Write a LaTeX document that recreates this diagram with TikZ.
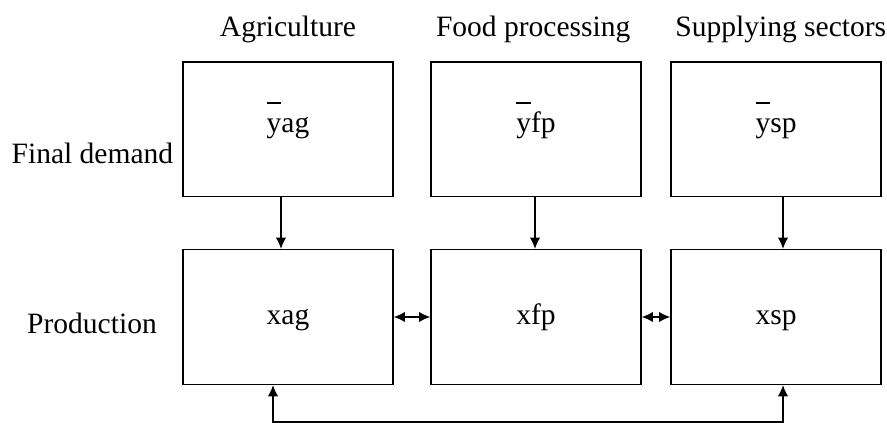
\documentclass[tikz,border=0pt]{standalone}
\usepackage{fontspec}
\setmainfont{Liberation Serif}
\usetikzlibrary{arrows.meta}
\newcommand{\barred}[1]{\rlap{\raisebox{0.95em}{\rule{0.5em}{0.06em}}}#1}

\begin{document}
\begin{tikzpicture}[
    sector/.style={draw, line width=1pt, minimum width=5.25cm, minimum height=3.37cm, inner sep=0pt, text height=14pt, text depth=4pt, font=\fontsize{21}{25}\selectfont},
    caption/.style={font=\fontsize{21}{25}\selectfont, inner sep=0pt},
    flow/.style={line width=1pt, {Latex[length=2.8mm,width=2.6mm]}-{Latex[length=2.8mm,width=2.6mm]}},
    feed/.style={line width=1pt, -{Latex[length=2.8mm,width=2.6mm]}}
  ]
  \useasboundingbox (0,0) rectangle (22.175,10.575);

  % Draw the column headings
  \node[caption] (agri) at (7.2,9.85) {Agriculture};
  \node[caption] (food) at (13.33,9.85) {Food processing};
  \node[caption] (supp) at (19.52,9.85) {Supplying sectors};

  % Draw the row headings
  \node[caption] (demand) at (2.31,6.75) {Final demand};
  \node[caption] (prod) at (2.3,2.5) {Production};

  % Draw the final demand boxes
  \node[sector] (yag) at (7.2,7.34) {\raisebox{1.1mm}{\barred{y}ag}};
  \node[sector] (yfp) at (13.4,7.34) {\raisebox{1.1mm}{\barred{y}fp}};
  \node[sector] (ysp) at (19.4,7.34) {\raisebox{1.1mm}{\barred{y}sp}};

  % Draw the production boxes
  \node[sector] (xag) at (7.2,2.65) {xag};
  \node[sector] (xfp) at (13.4,2.65) {xfp};
  \node[sector] (xsp) at (19.4,2.65) {xsp};

  % Draw arrows from demand down to production
  \draw[feed] ([xshift=-1.75mm]yag.south) -- ([xshift=-1.75mm]xag.north);
  \draw[feed] ([xshift=-0.25mm]yfp.south) -- ([xshift=-0.25mm]xfp.north);
  \draw[feed] ([xshift=1.75mm]ysp.south) -- ([xshift=1.75mm]xsp.north);

  % Draw arrows going back and forth between the production boxes
  \draw[flow] (xag) -- (xfp);
  \draw[flow] (xfp) -- (xsp);
  \draw[flow] ([xshift=-3.75mm]xag.south) -- ++(0,-0.925) -| ([xshift=1.75mm]xsp.south);

\end{tikzpicture}
\end{document}
